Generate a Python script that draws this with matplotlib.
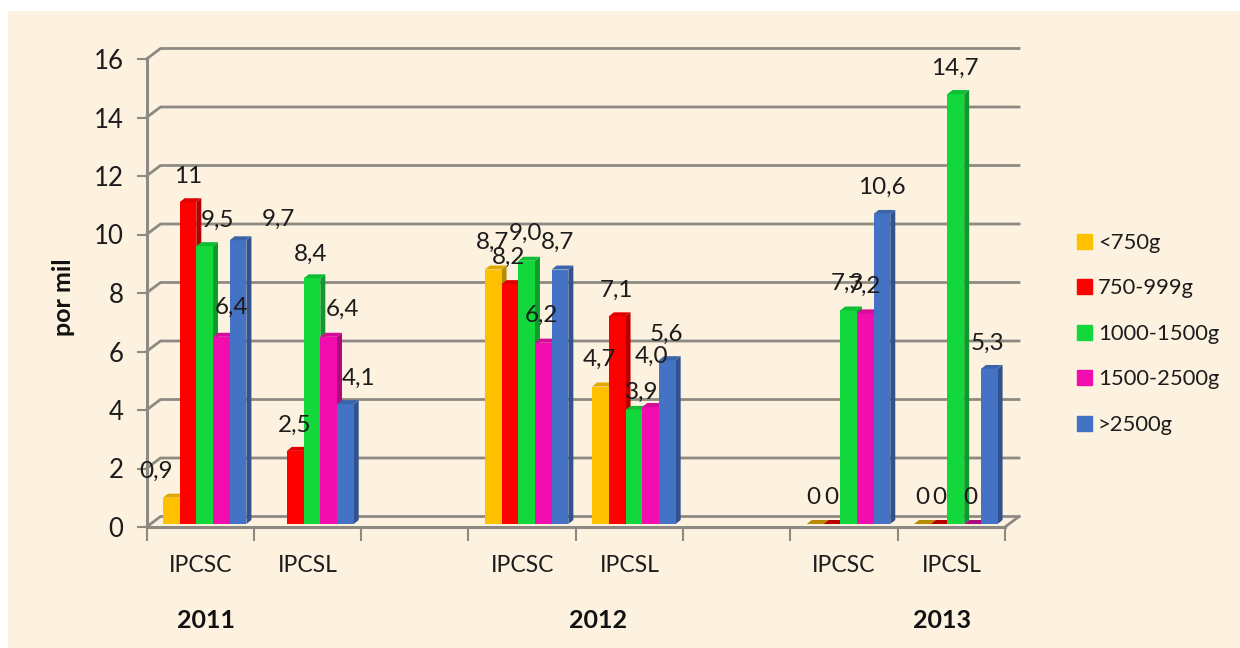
import matplotlib
matplotlib.use("Agg")
import matplotlib.pyplot as plt
from matplotlib.patches import Polygon, Rectangle
import matplotlib.colors as mc

plt.rcParams['font.family'] = ['Lato', 'DejaVu Sans']

W, H = 1240, 648
categories = ['IPCSC', 'IPCSL', '', 'IPCSC', 'IPCSL', '', 'IPCSC', 'IPCSL']
years = ['2011', '2012', '2013']
series_names = ['<750g', '750-999g', '1000-1500g', '1500-2500g', '>2500g']
colors = ['#FFC000', '#FF0000', '#12D83C', '#F20DAE', '#4472C4']

lt750 = [0.9, None, None, 8.7, 4.7, None, 0, 0]
v750 = [11, 2.5, None, 8.2, 7.1, None, 0, 0]
v1000 = [9.5, 8.4, None, 9.0, 3.9, None, 7.3, 14.7]
v1500 = [6.4, 6.4, None, 6.2, 4.0, None, 7.2, 0]
gt2500 = [9.7, 4.1, None, 8.7, 5.6, None, 10.6, 5.3]
series = [lt750, v750, v1000, v1500, gt2500]

# nudge in pixels from the default spot over each bar, as the reference has them
nudge = {
    (0, 0): (-15, 0), (0, 1): (0, 0), (0, 2): (13, 0), (0, 3): (10, 3), (0, 4): (40, -5),
    (1, 1): (-1, 0), (1, 2): (-1, -2), (1, 3): (14, 1), (1, 4): (13, 0),
    (3, 0): (-1, 1), (3, 1): (-1, 1), (3, 2): (-1, 1), (3, 3): (-2, 1), (3, 4): (-2, 1),
    (4, 0): (-1, 1), (4, 1): (-1, 0), (4, 2): (8, -8), (4, 3): (1, 25), (4, 4): (-1, 0),
    (6, 0): (-2, 0), (6, 1): (-1, 0), (6, 2): (-1, 1), (6, 3): (-1, 1), (6, 4): (0, 1),
    (7, 0): (0, 0), (7, 1): (0, 0), (7, 2): (-1, 0), (7, 3): (-2, 0), (7, 4): (-2, 0),
}

def label_text(v):
    if v in (0, 11):
        return str(int(v))
    return f'{v:.1f}'.replace('.', ',')

BG = '#FCF2DF'
GRID = '#8C8A82'
INK = '#1C1C1C'

fig = plt.figure(figsize=(W / 100, H / 100), dpi=100, facecolor='white')
panel = fig.add_axes([0, 0, 1, 1], zorder=0)
panel.set_xlim(0, W); panel.set_ylim(H, 0); panel.axis('off')
panel.add_patch(Rectangle((8, 11), W - 8, H - 11, facecolor=BG, edgecolor='none'))

L, R, Y0, Y16 = 146.5, 1005, 527, 59
n = len(categories)
ax = fig.add_axes([L / W, 1 - Y0 / H, (R - L) / W, (Y0 - Y16) / H], zorder=1)
ax.set_xlim(0, n); ax.set_ylim(0, 16)
ax.patch.set_alpha(0)
for s in ax.spines.values():
    s.set_visible(False)

px = n / (R - L)
py = 16 / (Y0 - Y16)
bw = 16.7 * px
wall_dx, wall_dy = 14 * px, 10.5 * py

for t in range(0, 18, 2):
    ax.plot([0, wall_dx, n + wall_dx], [t, t + wall_dy, t + wall_dy],
            color=GRID, lw=2.0, clip_on=False, zorder=1, solid_joinstyle='round')
ax.plot([n, n + wall_dx], [0, wall_dy], color=GRID, lw=2.0, clip_on=False, zorder=1)
ax.plot([0, n], [0, 0], color=GRID, lw=2.2, clip_on=False, zorder=2)
ax.plot([0, 0], [0, 16], color=GRID, lw=2.2, clip_on=False, zorder=2)

ax.set_xticks(range(n + 1))
ax.set_xticklabels([''] * (n + 1))
ax.set_yticks(range(0, 18, 2))
ax.set_yticklabels([str(t) for t in range(0, 18, 2)], fontsize=18.5, color=INK)
ax.tick_params(axis='x', length=10, width=1.5, color=GRID, pad=0)
ax.tick_params(axis='y', length=7, width=1.5, color=GRID, pad=9.5)

lift = 3 * py
side, top = 5 * px, 4 * py
for c, name in enumerate(categories):
    if name:
        ax.text(c + 0.5, -1.32, name, ha='center', va='center', fontsize=16.5, color=INK, clip_on=False)
    for i, vals in enumerate(series):
        v = vals[c]
        if v is None:
            continue
        x0 = c + (16.4 + 16.7 * i) * px
        col = colors[i]
        dark = tuple(0.72 * a for a in mc.to_rgb(col))
        z = 3 + 0.01 * i
        if v > 0:
            ax.bar(x0, v, bw, bottom=lift, align='edge', color=col, zorder=z, clip_on=False, linewidth=0)
        ax.add_patch(Polygon([(x0 + bw, lift), (x0 + bw + side, lift + top), (x0 + bw + side, lift + v + top), (x0 + bw, lift + v)],
                             closed=True, facecolor=dark, edgecolor='none', zorder=z - 0.005, clip_on=False))
        ax.add_patch(Polygon([(x0, lift + v), (x0 + side, lift + v + top), (x0 + bw + side, lift + v + top), (x0 + bw, lift + v)],
                             closed=True, facecolor=dark if v == 0 else tuple(0.88 * a for a in mc.to_rgb(col)),
                             edgecolor='none', zorder=z + 0.001, clip_on=False))
        nx, ny = nudge.get((c, i), (0, 0))
        ax.annotate(label_text(v), xy=(x0 + bw / 2, lift + v), xytext=(nx * 0.72, (26 + ny) * 0.72),
                    textcoords='offset points', ha='center', va='center', fontsize=17.5, color=INK,
                    zorder=10, annotation_clip=False)

for yr, xc in zip(years, [0.555, 4.21, 7.41]):
    ax.text(xc, -3.2, yr, ha='center', va='center', fontsize=18, fontweight='bold', color='#111111', clip_on=False)

ax.set_ylabel('por mil', fontsize=18, fontweight='bold', color='#111111')
ax.yaxis.set_label_coords((75 - L) / (R - L), (Y0 - 297) / (Y0 - Y16))

handles = [Rectangle((0, 0), 1, 1, color=c) for c in colors]
fig.legend(handles, series_names, loc='upper left', bbox_to_anchor=(1077 / W, 1 - 233 / H), frameon=False,
           fontsize=15.8, labelcolor=INK, handlelength=0.68, handleheight=0.68, handletextpad=0.27,
           labelspacing=1.16, borderpad=0, borderaxespad=0)

fig.savefig('out.png', dpi=100, facecolor=fig.get_facecolor())
